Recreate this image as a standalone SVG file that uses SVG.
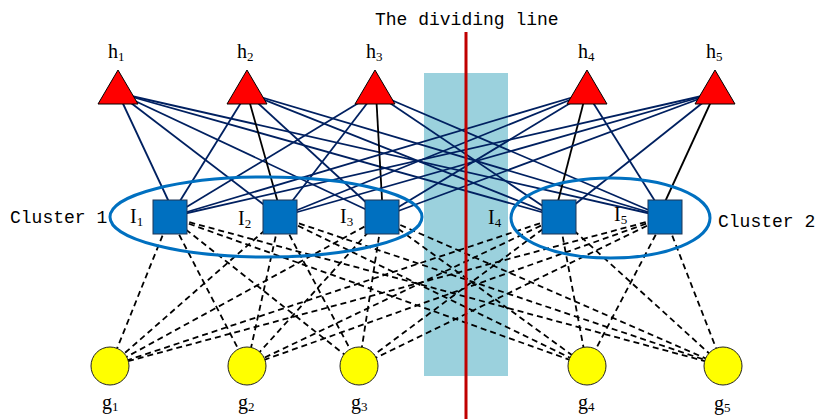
<svg xmlns="http://www.w3.org/2000/svg" width="819" height="419" viewBox="0 0 819 419">
  <style>
    .lbl { font-family: "Liberation Serif", "Times New Roman", serif; font-size: 20px; fill: #000; }
    .sub { font-size: 13px; }
    .mono { font-family: "Liberation Mono", "Courier New", monospace; font-size: 18px; fill: #000; }
    .tri { fill: #ff0000; stroke: #000; stroke-width: 1; }
    .sq { fill: #0070c0; stroke: #1f3555; stroke-width: 1; }
    .circ { fill: #ffff00; stroke: #222; stroke-width: 1; }
    .link { stroke: #002060; stroke-width: 1.8; fill: none; }
    .link.main { stroke: #000; }
    .dash { stroke: #000; stroke-width: 1.8; stroke-dasharray: 6 4; fill: none; }
    .cluster { fill: none; stroke: #0070c0; stroke-width: 3; }
  </style>

  <!-- shaded band around the dividing line -->
  <rect id="band" x="424" y="73" width="84" height="303" fill="#9bd1dd"/>

  <g id="connectors">
    <!-- solid links: head nodes h1..h5 to relay nodes I1..I5 -->
    <line class="link" x1="118" y1="93" x2="176" y2="217"/>
    <line class="link" x1="118" y1="93" x2="280" y2="217"/>
    <line class="link" x1="118" y1="93" x2="382" y2="217"/>
    <line class="link" x1="118" y1="93" x2="559" y2="217"/>
    <line class="link" x1="118" y1="93" x2="665" y2="217"/>

    <line class="link" x1="247" y1="93" x2="170" y2="217"/>
    <line class="link main" x1="247" y1="93" x2="282" y2="217"/>
    <line class="link" x1="247" y1="93" x2="382" y2="217"/>
    <line class="link" x1="247" y1="93" x2="559" y2="217"/>
    <line class="link" x1="247" y1="93" x2="665" y2="217"/>

    <line class="link" x1="375" y1="93" x2="170" y2="217"/>
    <line class="link" x1="375" y1="93" x2="280" y2="217"/>
    <line class="link main" x1="376" y1="93" x2="383" y2="217"/>
    <line class="link" x1="375" y1="93" x2="559" y2="217"/>
    <line class="link" x1="375" y1="93" x2="665" y2="217"/>

    <line class="link" x1="587" y1="93" x2="170" y2="217"/>
    <line class="link" x1="587" y1="93" x2="280" y2="217"/>
    <line class="link" x1="587" y1="93" x2="382" y2="217"/>
    <line class="link main" x1="586" y1="93" x2="554" y2="217"/>
    <line class="link" x1="587" y1="93" x2="665" y2="217"/>

    <line class="link" x1="715" y1="93" x2="170" y2="217"/>
    <line class="link" x1="715" y1="93" x2="280" y2="217"/>
    <line class="link" x1="715" y1="93" x2="382" y2="217"/>
    <line class="link" x1="715" y1="93" x2="559" y2="217"/>
    <line class="link main" x1="715" y1="93" x2="658" y2="217"/>

    <!-- dashed links: relay nodes I1..I5 to ground nodes g1..g5 -->
    <line class="dash" x1="170" y1="217" x2="110" y2="366"/>
    <line class="dash" x1="170" y1="217" x2="247" y2="366"/>
    <line class="dash" x1="170" y1="217" x2="359" y2="366"/>
    <line class="dash" x1="170" y1="217" x2="587" y2="366"/>
    <line class="dash" x1="170" y1="217" x2="723" y2="366"/>

    <line class="dash" x1="280" y1="217" x2="110" y2="366"/>
    <line class="dash" x1="280" y1="217" x2="247" y2="366"/>
    <line class="dash" x1="280" y1="217" x2="359" y2="366"/>
    <line class="dash" x1="280" y1="217" x2="587" y2="366"/>
    <line class="dash" x1="280" y1="217" x2="723" y2="366"/>

    <line class="dash" x1="382" y1="217" x2="110" y2="366"/>
    <line class="dash" x1="382" y1="217" x2="247" y2="366"/>
    <line class="dash" x1="382" y1="217" x2="359" y2="366"/>
    <line class="dash" x1="382" y1="217" x2="587" y2="366"/>
    <line class="dash" x1="382" y1="217" x2="723" y2="366"/>

    <line class="dash" x1="559" y1="217" x2="110" y2="366"/>
    <line class="dash" x1="559" y1="217" x2="247" y2="366"/>
    <line class="dash" x1="559" y1="217" x2="359" y2="366"/>
    <line class="dash" x1="559" y1="217" x2="587" y2="366"/>
    <line class="dash" x1="559" y1="217" x2="723" y2="366"/>

    <line class="dash" x1="665" y1="217" x2="110" y2="366"/>
    <line class="dash" x1="665" y1="217" x2="247" y2="366"/>
    <line class="dash" x1="665" y1="217" x2="359" y2="366"/>
    <line class="dash" x1="665" y1="217" x2="587" y2="366"/>
    <line class="dash" x1="665" y1="217" x2="723" y2="366"/>
  </g>

  <!-- dividing line -->
  <g id="divider">
    <line x1="466" y1="32" x2="466" y2="419" stroke="#c00000" stroke-width="3"/>
    <text class="mono" x="375" y="25">The dividing line</text>
  </g>

  <!-- clusters -->
  <g id="cluster1">
    <ellipse class="cluster" cx="266" cy="217" rx="156" ry="40"/>
    <text class="mono" x="10" y="223">Cluster 1</text>
  </g>
  <g id="cluster2">
    <ellipse class="cluster" cx="610.5" cy="218" rx="99.5" ry="40"/>
    <text class="mono" x="718" y="227">Cluster 2</text>
  </g>

  <!-- head nodes -->
  <g id="h1">
    <polygon class="tri" points="118,70 98,104 138,104"/>
    <text class="lbl" x="108" y="58">h<tspan class="sub" dy="3">1</tspan></text>
  </g>
  <g id="h2">
    <polygon class="tri" points="247,70 227,104 267,104"/>
    <text class="lbl" x="237" y="58">h<tspan class="sub" dy="3">2</tspan></text>
  </g>
  <g id="h3">
    <polygon class="tri" points="375,70 355,104 395,104"/>
    <text class="lbl" x="366" y="58">h<tspan class="sub" dy="3">3</tspan></text>
  </g>
  <g id="h4">
    <polygon class="tri" points="587,70 567,104 607,104"/>
    <text class="lbl" x="578" y="58">h<tspan class="sub" dy="3">4</tspan></text>
  </g>
  <g id="h5">
    <polygon class="tri" points="715,70 695,104 735,104"/>
    <text class="lbl" x="706" y="58">h<tspan class="sub" dy="3">5</tspan></text>
  </g>

  <!-- relay nodes -->
  <g id="I1">
    <rect class="sq" x="153" y="200" width="34" height="34"/>
    <text class="lbl" x="130" y="223">I<tspan class="sub" dy="3">1</tspan></text>
  </g>
  <g id="I2">
    <rect class="sq" x="263" y="200" width="34" height="34"/>
    <text class="lbl" x="238" y="225">I<tspan class="sub" dy="3">2</tspan></text>
  </g>
  <g id="I3">
    <rect class="sq" x="365" y="200" width="34" height="34"/>
    <text class="lbl" x="340" y="223">I<tspan class="sub" dy="3">3</tspan></text>
  </g>
  <g id="I4">
    <rect class="sq" x="542" y="200" width="34" height="34"/>
    <text class="lbl" x="488" y="224">I<tspan class="sub" dy="3">4</tspan></text>
  </g>
  <g id="I5">
    <rect class="sq" x="648" y="200" width="34" height="34"/>
    <text class="lbl" x="614" y="221">I<tspan class="sub" dy="3">5</tspan></text>
  </g>

  <!-- ground nodes -->
  <g id="g1">
    <circle class="circ" cx="110" cy="366" r="19"/>
    <text class="lbl" x="102" y="409">g<tspan class="sub" dy="2">1</tspan></text>
  </g>
  <g id="g2">
    <circle class="circ" cx="247" cy="366" r="19"/>
    <text class="lbl" x="238" y="409">g<tspan class="sub" dy="2">2</tspan></text>
  </g>
  <g id="g3">
    <circle class="circ" cx="359" cy="366" r="19"/>
    <text class="lbl" x="351" y="409">g<tspan class="sub" dy="2">3</tspan></text>
  </g>
  <g id="g4">
    <circle class="circ" cx="587" cy="366" r="19"/>
    <text class="lbl" x="578" y="409">g<tspan class="sub" dy="2">4</tspan></text>
  </g>
  <g id="g5">
    <circle class="circ" cx="723" cy="366" r="19"/>
    <text class="lbl" x="714" y="410">g<tspan class="sub" dy="2">5</tspan></text>
  </g>
</svg>
